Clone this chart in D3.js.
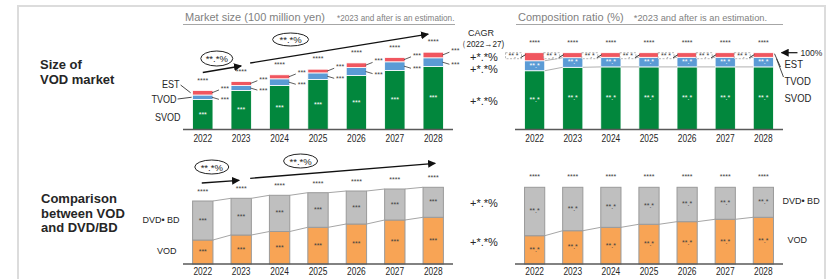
<!DOCTYPE html>
<html>
<head>
<meta charset="utf-8">
<script src="https://cdn.jsdelivr.net/npm/d3@7"></script>
<style>
  html, body { margin: 0; padding: 0; background: #fff; }
  svg { display: block; }
  text { font-family: 'Liberation Sans', Arial, sans-serif; }
  .bold { font-weight: bold; }
</style>
</head>
<body>
<div class="graph"></div>
<script>
const years = ['2022', '2023', '2024', '2025', '2026', '2027', '2028'];

// market size (100 million yen)
const svodSize = [3000, 3900, 4400, 5000, 5400, 5900, 6300];
const tvodSize = [450, 500, 670, 660, 800, 870, 870];
const estSize = [450, 400, 400, 370, 460, 430, 560];

// composition ratio (%)
const svodShare = [76.5, 81, 81.5, 81.5, 81.5, 81.5, 81.5];
const tvodShare = [13, 12.5, 12.5, 12.5, 12.5, 12.5, 12.5];
const estShare = [10.5, 6.5, 6, 6, 6, 6, 6];

// VOD vs DVD/BD
const vodSize = [2400, 2900, 3250, 3670, 4000, 4400, 4670];
const discSize = [3900, 3670, 3620, 3460, 3300, 3100, 3000];
const vodShare = [36.9, 43.4, 47.8, 51.8, 55.2, 58.3, 60.9];
const discShare = [63.1, 56.6, 52.2, 48.2, 44.8, 41.7, 39.1];

const colors = {
  SVOD: '#02873d', TVOD: '#5b9bd5', EST: '#f0565f', VOD: '#f8a455', DISC: '#bfbfbf',
};
const dark = '#262626';
const grey = '#7f7f7f';

const width = 833;
const height = 279;

const svg = d3.select('.graph').append('svg')
  .attr('width', width)
  .attr('height', height);

const defs = svg.append('defs');
defs.append('marker')
  .attr('id', 'arrow')
  .attr('viewBox', '0 0 10 10')
  .attr('refX', 9).attr('refY', 5)
  .attr('markerWidth', 8).attr('markerHeight', 8)
  .attr('markerUnits', 'userSpaceOnUse')
  .attr('orient', 'auto')
  .append('path')
  .attr('d', 'M0,0L10,5L0,10Z')
  .attr('fill', '#111');

// outer frame
svg.append('path')
  .attr('d', `M18,${height + 5}V6H825V${height + 5}`)
  .attr('fill', 'none')
  .attr('stroke', '#dcdcdc')
  .attr('stroke-width', 2);

// row titles
const rowTitle = (lines, x, y0) => {
  svg.append('g').selectAll('text')
    .data(lines)
    .enter()
    .append('text')
    .classed('bold', true)
    .attr('x', x)
    .attr('y', (d, i) => y0 + i * 14.5)
    .attr('font-size', 13)
    .attr('fill', dark)
    .text((d) => d);
};
rowTitle(['Size of', 'VOD market'], 40, 69);
rowTitle(['Comparison', 'between VOD', 'and DVD/BD'], 41, 203);

// panel headings
const heading = (x0, x1, title, note, noteSize, gap) => {
  const g = svg.append('g');
  const t = g.append('text')
    .attr('x', x0 + 2)
    .attr('y', 21)
    .attr('font-size', 11)
    .attr('fill', grey);
  t.append('tspan').text(title);
  t.append('tspan').attr('dx', gap).attr('font-size', noteSize).text(note);
  g.append('line')
    .attr('x1', x0).attr('x2', x1)
    .attr('y1', 24.5).attr('y2', 24.5)
    .attr('stroke', '#a6a6a6');
};
heading(183, 455, 'Market size (100 million yen)', '*2023 and after is an estimation.', 8.2, 12);
heading(516, 783, 'Composition ratio (%)', '*2023 and after is an estimation.', 9.3, 10);

const xLeft = d3.scaleBand().domain(years).range([183, 453]).paddingInner(0.47).paddingOuter(0.25);
const xRight = d3.scaleBand().domain(years).range([515, 783]).paddingInner(0.47).paddingOuter(0.25);

const ySize = d3.scaleLinear().domain([0, 8000]).range([129.5, 49.5]);
const yShare = d3.scaleLinear().domain([0, 100]).range([129.5, 52.7]);
const yComp = d3.scaleLinear().domain([0, 8000]).range([264, 184]);
const yCompShare = d3.scaleLinear().domain([0, 100]).range([264, 187.3]);

const axisLine = (x, y, pad) => {
  const g = svg.append('g').attr('transform', `translate(0,${y.range()[0]})`)
    .call(d3.axisBottom(x).tickSize(0).tickPadding(pad));
  g.select('.domain').attr('stroke', '#595959').attr('stroke-width', 1.5)
    .attr('d', `M${x.range()[0]},0H${x.range()[1]}`);
  g.selectAll('text')
    .attr('font-size', 10)
    .attr('fill', dark)
    .attr('font-family', null)
    .attr('transform', 'scale(0.84,1)');
};

const stackRows = (keys, arrays) => years.map((yr, i) => {
  const row = { year: yr };
  keys.forEach((k, j) => { row[k] = arrays[j][i]; });
  return row;
});

const drawStack = (x, y, keys, arrays, stroke, strokeWidth) => {
  const series = d3.stack().keys(keys)(stackRows(keys, arrays));
  svg.append('g')
    .selectAll('g')
    .data(series)
    .enter()
    .append('g')
    .attr('fill', (s) => colors[s.key])
    .selectAll('rect')
    .data((s) => s)
    .enter()
    .append('rect')
    .attr('x', (d) => x(d.data.year))
    .attr('y', (d) => y(d[1]))
    .attr('width', x.bandwidth())
    .attr('height', (d) => y(d[0]) - y(d[1]))
    .attr('stroke', stroke)
    .attr('stroke-width', strokeWidth);
  return series;
};

const smallText = (g, data, xf, yf, txt, fill, size = 7) => g.selectAll(null)
  .data(data)
  .enter()
  .append('text')
  .attr('x', xf)
  .attr('y', yf)
  .attr('text-anchor', 'middle')
  .attr('font-size', size)
  .attr('fill', fill)
  .text(txt);

const connectors = (series, x, y, idx, color) => {
  const g = svg.append('g');
  const pts = series[idx];
  g.selectAll('line')
    .data(pts.slice(0, -1))
    .enter()
    .append('line')
    .attr('x1', (d) => x(d.data.year) + x.bandwidth())
    .attr('y1', (d) => y(d[1]))
    .attr('x2', (d, i) => x(pts[i + 1].data.year))
    .attr('y2', (d, i) => y(pts[i + 1][1]))
    .attr('stroke', color)
    .attr('stroke-width', 1);
};

const trendArrow = (pts, ell, label) => {
  const g = svg.append('g');
  pts.forEach((seg) => {
    g.append('line')
      .attr('x1', seg[0][0]).attr('y1', seg[0][1])
      .attr('x2', seg[1][0]).attr('y2', seg[1][1])
      .attr('stroke', '#111')
      .attr('stroke-width', 1.3)
      .attr('marker-end', 'url(#arrow)');
  });
  ell.forEach((e) => {
    g.append('ellipse')
      .attr('cx', e[0]).attr('cy', e[1])
      .attr('rx', e[2]).attr('ry', e[3])
      .attr('fill', '#fff')
      .attr('stroke', '#222')
      .attr('stroke-width', 1);
    g.append('text')
      .attr('x', e[0]).attr('y', e[1] + 3.5)
      .attr('text-anchor', 'middle')
      .attr('font-size', 9.5)
      .attr('fill', dark)
      .text(label);
  });
};

// narrow text: scaled horizontally around its anchor
const label = (x, y, txt, size = 11, anchor = 'start', sx = 1) => svg.append('text')
  .attr('transform', `translate(${x},${y}) scale(${sx},1)`)
  .attr('font-size', size)
  .attr('text-anchor', anchor)
  .attr('fill', dark)
  .text(txt);

const seg = (x1, y1, x2, y2, color = '#333') => svg.append('line')
  .attr('x1', x1).attr('y1', y1).attr('x2', x2).attr('y2', y2)
  .attr('stroke', color).attr('stroke-width', 0.9);

const cx = (x, yr) => x(yr) + x.bandwidth() / 2;

// ---------- top left: market size ----------
const sizeSeries = drawStack(xLeft, ySize, ['SVOD', 'TVOD', 'EST'], [svodSize, tvodSize, estSize], '#fff', 0.8);
axisLine(xLeft, ySize, 5.5);
{
  const g = svg.append('g');
  const [sv, tv, es] = sizeSeries;
  smallText(g, sv, (d) => cx(xLeft, d.data.year), (d) => (ySize(d[0]) + ySize(d[1])) / 2 + 2, '***', '#fff');
  smallText(g, es, (d) => cx(xLeft, d.data.year), (d) => ySize(d[1]) - 8, '****', '#404040');
  const side = (s, dy) => {
    const gg = svg.append('g');
    gg.selectAll('line')
      .data(s)
      .enter()
      .append('line')
      .attr('x1', (d) => xLeft(d.data.year) + xLeft.bandwidth() - 1)
      .attr('y1', (d) => (ySize(d[0]) + ySize(d[1])) / 2)
      .attr('x2', (d) => xLeft(d.data.year) + xLeft.bandwidth() + 6)
      .attr('y2', (d) => (ySize(d[0]) + ySize(d[1])) / 2 + dy * 0.7)
      .attr('stroke', '#333')
      .attr('stroke-width', 0.8);
    smallText(gg, s, (d) => xLeft(d.data.year) + xLeft.bandwidth() + 12,
      (d) => (ySize(d[0]) + ySize(d[1])) / 2 + dy + 2, '***', '#404040');
  };
  side(es, -4);
  side(tv, 3);

  const first = years[0];
  const bx = xLeft(first);
  label(bx - 13, 87.5, 'EST', 10.5, 'end', 0.86);
  label(bx - 16, 103, 'TVOD', 10.5, 'end', 0.86);
  label(bx - 12, 120.5, 'SVOD', 10.5, 'end', 0.86);
  seg(bx - 12, 85, bx - 2, (ySize(es[0][0]) + ySize(es[0][1])) / 2);
  seg(bx - 15, 99, bx - 1, (ySize(tv[0][0]) + ySize(tv[0][1])) / 2);

  // CAGR column
  label(481, 36, 'CAGR', 9, 'middle');
  label(481, 47, '（2022→27)', 9, 'middle', 0.9);
  const cagrY = [(ySize(es[6][0]) + ySize(es[6][1])) / 2 + 6, (ySize(tv[6][0]) + ySize(tv[6][1])) / 2 + 11,
    (ySize(sv[6][0]) + ySize(sv[6][1])) / 2 + 7];
  cagrY.forEach((yy) => label(470, yy, '+*.*%', 11));

  const t0 = ySize(svodSize[0] + tvodSize[0] + estSize[0]);
  const t1 = ySize(svodSize[1] + tvodSize[1] + estSize[1]);
  const t6 = ySize(svodSize[6] + tvodSize[6] + estSize[6]);
  trendArrow(
    [[[cx(xLeft, '2022'), t0 - 18], [cx(xLeft, '2023'), t1 - 15.5]],
      [[cx(xLeft, '2023') + 9, t1 - 18.5], [cx(xLeft, '2028') - 5, t6 - 18]]],
    [[cx(xLeft, '2022') + 14, t0 - 32, 16, 7.5], [cx(xLeft, '2024') + 11, 39.5, 18, 6.5]],
    '**.*%',
  );
}

// ---------- top right: composition ratio ----------
const shareSeries = drawStack(xRight, yShare, ['SVOD', 'TVOD', 'EST'], [svodShare, tvodShare, estShare], '#fff', 0.8);
connectors(shareSeries, xRight, yShare, 0, '#b0b0b0');
connectors(shareSeries, xRight, yShare, 1, '#b0b0b0');
axisLine(xRight, yShare, 5.5);
{
  const g = svg.append('g');
  const [sv, tv, es] = shareSeries;
  smallText(g, sv, (d) => cx(xRight, d.data.year), (d) => (yShare(d[0]) + yShare(d[1])) / 2 + 2, '**.*', '#fff');
  smallText(g, tv, (d) => cx(xRight, d.data.year), (d) => (yShare(d[0]) + yShare(d[1])) / 2 + 2, '**.*', '#fff');
  smallText(g, es, (d) => cx(xRight, d.data.year), (d) => yShare(d[1]) - 8, '****', '#404040');

  // EST share labels in dashed boxes left of each bar
  const boxes = svg.append('g');
  boxes.selectAll('rect')
    .data(es)
    .enter()
    .append('rect')
    .attr('x', (d) => xRight(d.data.year) - 19)
    .attr('y', (d) => yShare(d[1]))
    .attr('width', 16)
    .attr('height', 6)
    .attr('fill', '#fff')
    .attr('stroke', '#9a9a9a')
    .attr('stroke-width', 0.7)
    .attr('stroke-dasharray', '2,1.5');
  smallText(boxes, es, (d) => xRight(d.data.year) - 11, (d) => yShare(d[1]) + 5, '**.*', '#404040');
  boxes.selectAll('line')
    .data(es)
    .enter()
    .append('line')
    .attr('x1', (d) => xRight(d.data.year) - 4)
    .attr('y1', (d) => yShare(d[1]) + 5)
    .attr('x2', (d) => xRight(d.data.year) + 1)
    .attr('y2', (d) => yShare(d[1]) + 2)
    .attr('stroke', '#222')
    .attr('stroke-width', 0.9);

  const right = xRight('2028') + xRight.bandwidth();
  const top = yShare(100);
  svg.append('line')
    .attr('x1', right + 24).attr('y1', top)
    .attr('x2', right + 8).attr('y2', top)
    .attr('stroke', '#111')
    .attr('stroke-width', 1.2)
    .attr('marker-end', 'url(#arrow)');
  label(right + 27, top + 3, '100%', 8.5);
  label(right + 11, 68, 'EST', 10, 'start', 0.95);
  label(right + 11, 84.5, 'TVOD', 10, 'start', 0.95);
  label(right + 11, 102, 'SVOD', 10, 'start', 0.95);
  seg(right + 1, top + 1, right + 7, 67);
  seg(right + 3, top + 6, right + 10, 77);
}

// ---------- bottom left: VOD vs DVD/BD ----------
const compSeries = drawStack(xLeft, yComp, ['VOD', 'DISC'], [vodSize, discSize], '#9a9a9a', 1);
connectors(compSeries, xLeft, yComp, 0, '#a6a6a6');
connectors(compSeries, xLeft, yComp, 1, '#a6a6a6');
axisLine(xLeft, yComp, 4);
{
  const g = svg.append('g');
  const [vo, di] = compSeries;
  smallText(g, vo, (d) => cx(xLeft, d.data.year), (d) => (yComp(d[0]) + yComp(d[1])) / 2 + 2, '***', '#404040');
  smallText(g, di, (d) => cx(xLeft, d.data.year), (d) => (yComp(d[0]) + yComp(d[1])) / 2 + 2, '***', '#404040');
  smallText(g, di, (d) => cx(xLeft, d.data.year), (d) => yComp(d[1]) - 7, '****', '#404040');

  label(xLeft('2022') - 13, 223, 'DVD• BD', 9, 'end');
  label(xLeft('2022') - 16, 254, 'VOD', 9, 'end');
  label(470, 207, '+*.*%', 11);
  label(470, 246, '+*.*%', 11);

  const t0 = yComp(vodSize[0] + discSize[0]);
  const t1 = yComp(vodSize[1] + discSize[1]);
  const t6 = yComp(vodSize[6] + discSize[6]);
  trendArrow(
    [[[cx(xLeft, '2022') - 1, t0 - 18], [cx(xLeft, '2023') - 2, t1 - 18]],
      [[cx(xLeft, '2023') + 9, t1 - 20], [cx(xLeft, '2028') + 2, t6 - 24]]],
    [[cx(xLeft, '2022') + 9, 167, 17, 7], [cx(xLeft, '2024') + 21, 161, 17, 7]],
    '**.*%',
  );
}

// ---------- bottom right: VOD vs DVD/BD ratio ----------
const compShareSeries = drawStack(xRight, yCompShare, ['VOD', 'DISC'], [vodShare, discShare], '#9a9a9a', 1);
connectors(compShareSeries, xRight, yCompShare, 0, '#a6a6a6');
axisLine(xRight, yCompShare, 4);
{
  const g = svg.append('g');
  const [vo, di] = compShareSeries;
  smallText(g, vo, (d) => cx(xRight, d.data.year), (d) => (yCompShare(d[0]) + yCompShare(d[1])) / 2 + 2, '**.*', '#404040');
  smallText(g, di, (d) => cx(xRight, d.data.year), (d) => (yCompShare(d[0]) + yCompShare(d[1])) / 2 + 2, '**.*', '#404040');
  smallText(g, di, (d) => cx(xRight, d.data.year), (d) => yCompShare(d[1]) - 8, '****', '#404040');
  const right = xRight('2028') + xRight.bandwidth();
  label(right + 9, 204, 'DVD• BD', 9);
  label(right + 14, 243, 'VOD', 9);
}
</script>
</body>
</html>
